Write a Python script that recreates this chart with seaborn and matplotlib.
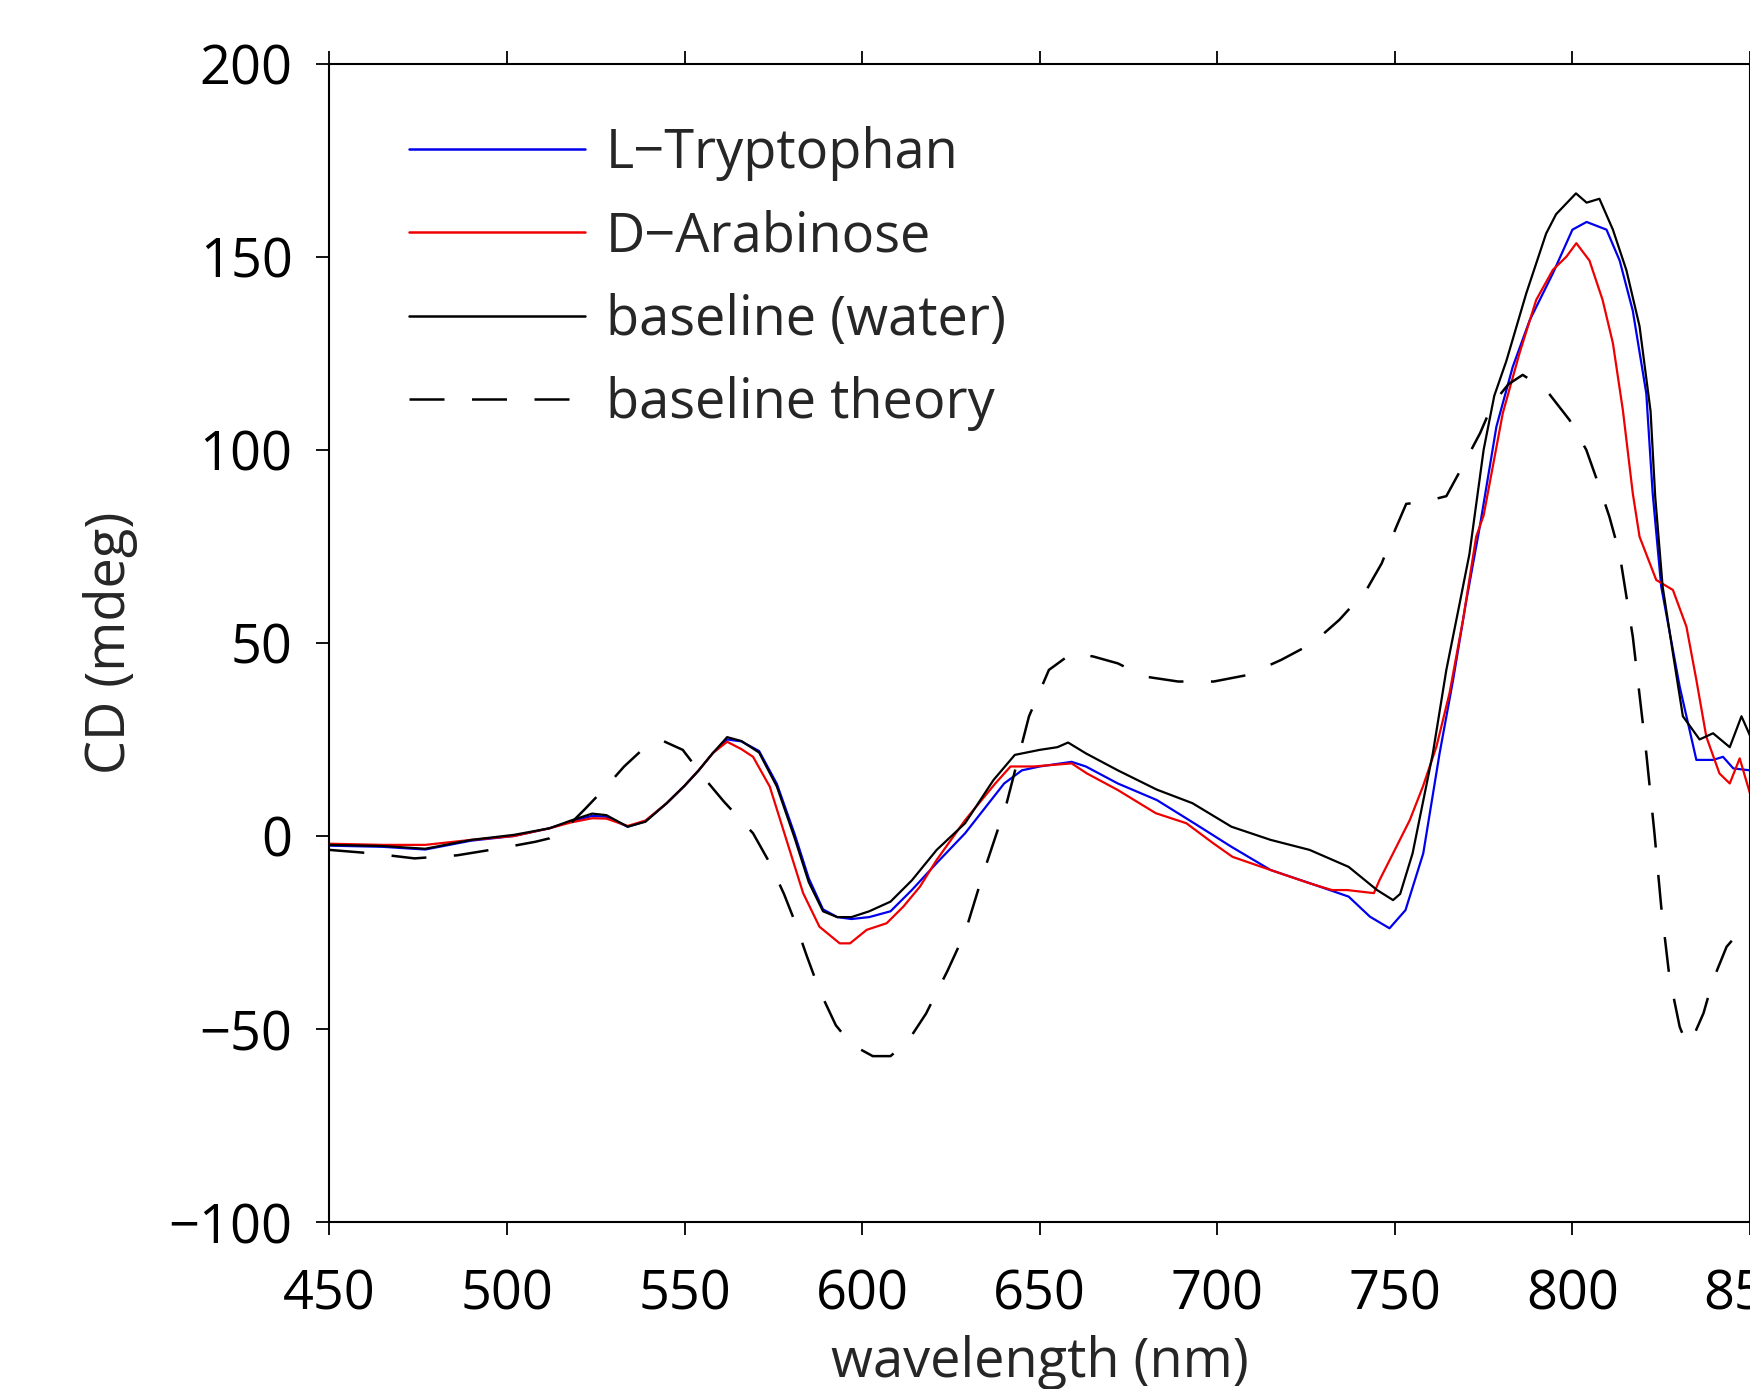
import matplotlib
matplotlib.use("Agg")
import matplotlib.pyplot as plt
import seaborn as sns
import pandas as pd

# ---------------- data ----------------
wl_trp = [450, 465, 477, 490, 502, 512, 518, 524, 528, 534, 539, 545, 550, 554, 558, 562, 566,
          571, 576, 581, 585, 589, 593, 597, 602, 608, 614, 621, 629, 640, 645, 650, 659, 663,
          672, 683, 693.5, 704, 715, 726, 737, 743, 748.5, 753, 758, 762.6, 766.4, 770, 773.9,
          778.6, 783.2, 788, 794.5, 800, 804, 809.6, 813.3, 817, 820.8, 822.6, 825, 830.2,
          834.9, 839.6, 842.4, 845.3, 850]
cd_trp = [-2.5, -2.8, -3.5, -1.2, 0, 2, 3.8, 5.2, 5, 2.4, 3.8, 8.5, 13, 17, 21.5, 25, 24.5,
          22, 13.5, 0.5, -11, -19, -21, -21.5, -21, -19.5, -14, -7, 0.7, 13.6, 17, 18, 19.2, 18,
          13.6, 9.3, 3.3, -2.8, -8.8, -12.2, -15.7, -20.9, -23.9, -19.2, -4.5, 21.4, 40.4, 60.3, 80,
          106, 121.5, 133.6, 145.7, 157, 159, 157, 149, 136, 114.6, 88.7, 64.6, 38.7,
          19.7, 19.7, 20.5, 17.5, 17]

wl_ara = [450, 465, 477, 490, 502, 512, 518, 524, 528, 534, 539, 545, 550, 554, 558, 562, 566,
          569.3, 574, 578.7, 583.4, 588, 593.7, 596.6, 601.3, 606.9, 611.6, 616.3, 621, 629,
          637.5, 641.8, 648.3, 659, 663.3, 672, 682.7, 691.3, 698.9, 704.3, 715, 725.8, 732.3,
          736.6, 744.1, 745.7, 749.5, 754.2, 757.9, 761.7, 765.4, 769.2, 772.9, 775, 780.4,
          785.1, 789.8, 794.5, 798.3, 801.1, 804.8, 808.5, 811.4, 814.2, 817, 818.9, 823.6,
          828.3, 832.1, 834.9, 837.7, 841.4, 844.3, 847.1, 850]
cd_ara = [-2, -2.3, -2.3, -1, 0, 2, 3.5, 4.6, 4.5, 2.6, 4, 8.5, 13, 17, 21.5, 24.4, 22.5,
          20.5, 12.8, -1, -14.8, -23.5, -27.8, -27.8, -24.3, -22.6, -18.3, -13.1, -6.2, 4.1,
          13.6, 18, 18, 18.8, 16.2, 11.9, 5.9, 3.3, -1.9, -5.4, -8.8, -12.2, -14,
          -14, -14.8, -11.4, -4.5, 4.1, 12.8, 23.1, 37, 56, 77.5, 83, 109.5,
          125, 138.8, 146.6, 150, 153.5, 149, 138.8, 127.6, 110.3, 88.7, 77.5, 66.3,
          63.7, 54.2, 40.4, 25.7, 16.2, 13.6, 20.1, 11]

wl_water = [450, 465, 477, 490, 502, 512, 518, 524, 528, 534, 539, 545, 550, 554, 558, 562, 566,
            571, 576, 581, 585, 589, 593, 597, 602, 608, 614, 621, 629, 637, 643, 650, 655, 658,
            663, 672, 683, 693, 704, 715, 726, 737, 745, 749.5, 751.5, 755, 760.7, 764.5, 768.2,
            771, 775, 778, 781.4, 787, 792.6, 795.4, 801, 804, 807.6, 811.4, 815.2, 818.9, 822,
            823.3, 825.4, 828.3, 831.1, 835.8, 839.6, 844.3, 847.6, 850]
cd_water = [-2.3, -2.6, -3.3, -1, 0.3, 2, 4, 5.8, 5.4, 2.4, 3.7, 8.5, 13, 17, 21.5, 25.6, 24.6,
            21.6, 12.8, -0.5, -12, -19.5, -21, -21, -19.5, -17, -11.5, -3.6, 3.3, 14.5, 21, 22.3, 23, 24.2,
            21.4, 17, 12, 8.5, 2.4, -1, -3.6, -8, -14, -16.6, -15, -4.5, 21.4, 43, 60,
            73, 100, 114, 123, 140.5, 156, 161, 166.4, 164, 165, 157, 146.5, 132, 110,
            88, 64.6, 47.3, 31, 25, 26.6, 23, 31, 26]

wl_theory = [450, 462, 474, 486, 498, 508, 512, 517, 522, 528, 533, 539, 544, 549.5, 556, 561,
             565, 569.3, 574, 578, 581, 584.4, 588, 592.6, 597, 603, 608, 613, 618, 624, 629,
             634, 640.7, 647, 652.6, 659, 665, 672, 679.5, 689, 699, 708.6, 718, 727, 734.4,
             742, 746.3, 750.4, 753.2, 758, 764.5, 769, 774, 777.6, 782, 786, 792.6, 799.2,
             803.9, 807.6, 810.4, 813.3, 817, 820.8, 823.1, 825, 827.3, 830.2, 832.1, 834,
             836.9, 839.6, 843.4, 849.1, 850]
cd_theory = [-3.6, -4.5, -5.8, -5, -3.2, -1.5, -0.6, 2.4, 7, 12.8, 18, 23.1, 24.6, 22.3, 14.5, 9,
             5, 0.7, -7, -15, -22, -31, -40, -49, -54, -57, -57, -53, -46, -35, -25,
             -10, 8.5, 31, 43, 47.3, 46.5, 44.7, 41.3, 40, 40, 41.7, 45.6, 50, 56,
             63.7, 70.6, 80, 86, 86.5, 88, 95.6, 104.3, 112, 117, 119.4, 115.5, 107.7,
             100, 90.4, 82.7, 73, 51.6, 21.4, 0.7, -18.3, -36.4, -49.4, -53.7, -52,
             -45.9, -37.3, -28.7, -22.6, -22]

labels = ["L\u2212Tryptophan", "D\u2212Arabinose", "baseline (water)", "baseline theory"]
x_ticks = [450, 500, 550, 600, 650, 700, 750, 800, 850]
y_ticks = [-100, -50, 0, 50, 100, 150, 200]

# ---------------- style ----------------
sns.set_theme(style="ticks")
plt.rcParams["font.family"] = ["Open Sans", "DejaVu Sans"]
plt.rcParams["axes.unicode_minus"] = True
FS = 39

fig = plt.figure(figsize=(17.5, 13.89), dpi=100)
ax = fig.add_axes([0.1882, 0.1201, 0.8118, 0.8341])

sns.lineplot(x=wl_trp, y=cd_trp, ax=ax, color="#0000ee", lw=1.6, label=labels[0],
             estimator=None, sort=False)
sns.lineplot(x=wl_ara, y=cd_ara, ax=ax, color="#ee0000", lw=1.6, label=labels[1],
             estimator=None, sort=False)
sns.lineplot(x=wl_water, y=cd_water, ax=ax, color="black", lw=1.6, label=labels[2],
             estimator=None, sort=False)
sns.lineplot(x=wl_theory, y=cd_theory, ax=ax, color="black", lw=1.8, label=labels[3],
             estimator=None, sort=False)
ax.lines[3].set_linestyle((0, (14, 11)))

ax.set_xlim(450, 850)
ax.set_ylim(-100, 200)
ax.set_xticks(x_ticks)
ax.set_yticks(y_ticks)
ax.tick_params(axis="both", which="major", direction="out", length=9.5, width=1.3,
               labelsize=FS, top=True, right=True, colors="black")
ax.tick_params(axis="x", pad=23)
ax.tick_params(axis="y", pad=17)
for s in ax.spines.values():
    s.set_linewidth(1.5)
    s.set_color("black")
    s.set_visible(True)

ax.set_xlabel("wavelength (nm)", fontsize=FS, labelpad=9)
ax.set_ylabel("CD (mdeg)", fontsize=FS, labelpad=22)

leg = ax.legend(loc="upper left", bbox_to_anchor=(0.056, 0.946), frameon=False,
                fontsize=FS, handlelength=3.25, handletextpad=0.39, labelspacing=0.52,
                borderpad=0, borderaxespad=0)
for h in leg.get_lines():
    h.set_linewidth(1.8)

fig.savefig("out.png", dpi=100)
